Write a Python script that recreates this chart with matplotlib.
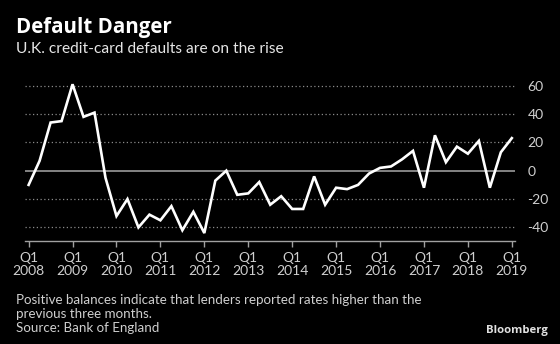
import matplotlib.pyplot as plt
import numpy as np

# U.K. credit-card default balances, quarterly, Q1 2008 .. Q1 2019
years = list(range(2008, 2020))
defaults = [
    -10, 7, 34, 35,        # 2008
    61, 38, 41, -5,        # 2009
    -32, -20, -40, -31,    # 2010
    -35, -25, -42, -29,    # 2011
    -44, -7, 0, -17,       # 2012
    -16, -8, -24, -18,     # 2013
    -27, -27, -4, -24,     # 2014
    -12, -13, -10, -2,     # 2015
    2, 3, 8, 14,           # 2016
    -12, 25, 6, 17,        # 2017
    12, 21, -12, 13,       # 2018
    23,                    # 2019
]
y_ticks = [-40, -20, 0, 20, 40, 60]

FONT = ['Lato', 'DejaVu Sans']
plt.rcParams['font.family'] = FONT

fig = plt.figure(figsize=(5.6, 3.44), dpi=100, facecolor='black')
ax = fig.add_axes([25 / 560, 103 / 344, 490 / 560, 162.4 / 344])
ax.set_facecolor('black')

q = np.arange(len(defaults))

# grid: dotted for non-zero values, solid baseline at zero
for v in y_ticks:
    if v == 0:
        ax.axhline(0, color='#9a9a9a', lw=1.2, zorder=1)
    else:
        ax.axhline(v, color='#8a8a8a', lw=0.9, ls=(0, (1, 2)), zorder=1)

ax.plot(q, defaults, color='white', lw=1.9, solid_joinstyle='miter', zorder=3)

ax.set_xlim(-0.33, 44.29)
ax.set_ylim(-49.6, 65)

for s in ['top', 'left', 'right']:
    ax.spines[s].set_visible(False)
ax.spines['bottom'].set_color('#a0a0a0')
ax.spines['bottom'].set_linewidth(1.0)

ax.set_xticks(q[::4])
ax.set_xticklabels(['Q1\n%d' % y for y in years], linespacing=1.05)
ax.tick_params(axis='x', colors='#a0a0a0', length=4, width=1, pad=4,
               labelcolor='#cfcfcf', labelsize=10)

ax.yaxis.tick_right()
ax.set_yticks(y_ticks)
ax.set_yticklabels([str(v) for v in y_ticks])
ax.tick_params(axis='y', length=0, pad=9, labelcolor='#cfcfcf', labelsize=10)

fig.text(16 / 560, 1 - 33.3 / 344, 'Default Danger', color='white',
         fontsize=14.8, fontweight='bold', va='baseline', ha='left',
         family=['Open Sans', 'DejaVu Sans'])
fig.text(16 / 560, 1 - 52.7 / 344, 'U.K. credit-card defaults are on the rise',
         color='#e6e6e6', fontsize=11.2, va='baseline', ha='left')

notes = ['Positive balances indicate that lenders reported rates higher than the',
         'previous three months.',
         'Source: Bank of England']
for i, line in enumerate(notes):
    fig.text(16 / 560, 1 - (304.3 + 13.7 * i) / 344, line, color='#cfcfcf',
             fontsize=9.6, va='baseline', ha='left')

fig.text(548 / 560, 1 - 333 / 344, 'Bloomberg', color='#e0e0e0',
         fontsize=8.2, fontweight='bold', va='baseline', ha='right',
         family=['Open Sans', 'DejaVu Sans'])

fig.savefig('out.png', dpi=100, facecolor='black')
